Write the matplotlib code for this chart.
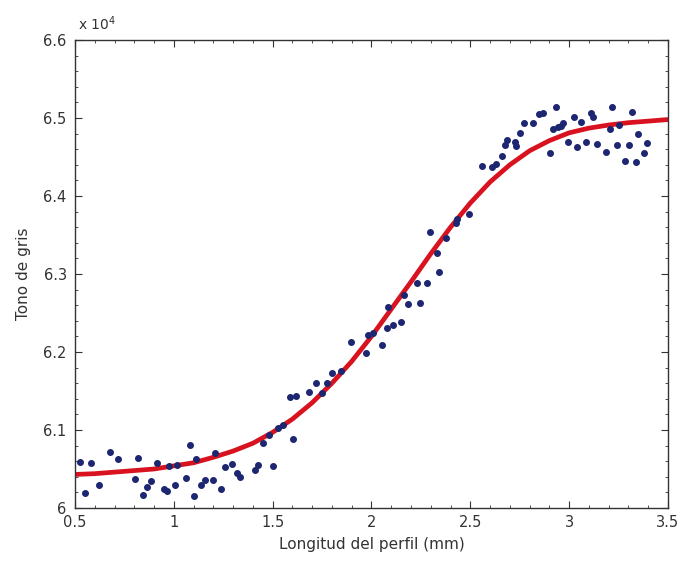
import matplotlib
matplotlib.use("Agg")
import matplotlib.pyplot as plt
from matplotlib.ticker import MultipleLocator

# Measured gray level along the profile (units of 1e4)
profile_x = [
    0.525, 0.581, 0.551, 0.621, 0.677, 0.718, 0.819, 0.804, 0.915, 0.885,
    0.864, 0.844, 0.950, 0.965, 0.976, 1.016, 1.006, 1.062, 1.082, 1.112,
    1.102, 1.137, 1.158, 1.198, 1.208, 1.239, 1.259, 1.294, 1.320, 1.335,
    1.411, 1.426, 1.451, 1.481, 1.502, 1.527, 1.552, 1.603, 1.588, 1.618,
    1.684, 1.750, 1.719, 1.775, 1.800, 1.846, 1.896, 1.972, 2.053, 2.008,
    1.982, 2.078, 2.109, 2.149, 2.084, 2.164, 2.185, 2.245, 2.230, 2.281,
    2.342, 2.331, 2.296, 2.377, 2.433, 2.428, 2.493, 2.559, 2.610, 2.630,
    2.660, 2.686, 2.675, 2.726, 2.731, 2.751, 2.772, 2.817, 2.847, 2.868,
    2.933, 2.903, 2.943, 2.918, 2.969, 2.959, 2.994, 3.025, 3.060, 3.110,
    3.121, 3.217, 3.318, 3.040, 3.085, 3.141, 3.207, 3.252, 3.186, 3.242,
    3.303, 3.348, 3.394, 3.379, 3.282, 3.338,
]
profile_gray = [
    6.059, 6.058, 6.019, 6.029, 6.072, 6.063, 6.064, 6.037, 6.058, 6.035,
    6.027, 6.017, 6.024, 6.022, 6.054, 6.055, 6.029, 6.038, 6.081, 6.063,
    6.015, 6.029, 6.036, 6.036, 6.071, 6.024, 6.053, 6.056, 6.045, 6.040,
    6.049, 6.055, 6.083, 6.094, 6.054, 6.103, 6.106, 6.088, 6.142, 6.144,
    6.149, 6.147, 6.160, 6.160, 6.173, 6.176, 6.213, 6.199, 6.209, 6.224,
    6.222, 6.231, 6.235, 6.238, 6.258, 6.273, 6.262, 6.263, 6.288, 6.288,
    6.303, 6.327, 6.354, 6.346, 6.371, 6.365, 6.377, 6.438, 6.437, 6.441,
    6.451, 6.472, 6.465, 6.469, 6.464, 6.481, 6.494, 6.494, 6.505, 6.506,
    6.514, 6.455, 6.488, 6.486, 6.494, 6.490, 6.469, 6.501, 6.495, 6.506,
    6.501, 6.514, 6.508, 6.463, 6.469, 6.467, 6.486, 6.491, 6.456, 6.465,
    6.465, 6.479, 6.468, 6.455, 6.445, 6.444,
]

# Fitted sigmoid curve
fit_x = [0.5, 0.6, 0.7, 0.8, 0.9, 1.0, 1.1, 1.2, 1.3, 1.4, 1.5, 1.6, 1.7,
         1.8, 1.9, 2.0, 2.1, 2.2, 2.3, 2.4, 2.5, 2.6, 2.7, 2.8, 2.9, 3.0,
         3.1, 3.2, 3.3, 3.4, 3.5]
fit_gray = [6.043, 6.044, 6.046, 6.048, 6.050, 6.054, 6.058, 6.065, 6.073,
            6.083, 6.097, 6.114, 6.135, 6.160, 6.188, 6.220, 6.255, 6.290,
            6.326, 6.360, 6.391, 6.418, 6.440, 6.458, 6.471, 6.481, 6.487,
            6.491, 6.494, 6.496, 6.498]

x_ticks = [0.5, 1, 1.5, 2, 2.5, 3, 3.5]
x_tick_labels = ["0.5", "1", "1.5", "2", "2.5", "3", "3.5"]
y_ticks = [6.0, 6.1, 6.2, 6.3, 6.4, 6.5, 6.6]
y_tick_labels = ["6", "6.1", "6.2", "6.3", "6.4", "6.5", "6.6"]

plt.rcParams["font.family"] = ["DejaVu Sans"]

fig = plt.figure(figsize=(6.83, 5.65), dpi=100)
ax = fig.add_axes([0.1098, 0.1009, 0.8682, 0.8283])

ax.plot(fit_x, fit_gray, color="#d8121f", linewidth=3.4, zorder=2,
        solid_capstyle="butt")
ax.plot(profile_x, profile_gray, linestyle="none", marker="o",
        markersize=4.0, markerfacecolor="#1d2670", markeredgecolor="#1d2670",
        zorder=3)

ax.set_xlim(0.5, 3.5)
ax.set_ylim(6.0, 6.6)
ax.set_xticks(x_ticks)
ax.set_xticklabels(x_tick_labels)
ax.set_yticks(y_ticks)
ax.set_yticklabels(y_tick_labels)
ax.xaxis.set_minor_locator(MultipleLocator(0.1))
ax.yaxis.set_minor_locator(MultipleLocator(0.02))

ax.tick_params(which="both", direction="in", top=True, right=True,
               colors="#333333", labelsize=10.5)
ax.tick_params(axis="x", which="major", pad=5)
ax.tick_params(axis="y", which="major", pad=6)
ax.tick_params(which="major", length=5, width=0.8)
ax.tick_params(which="minor", length=2.5, width=0.6)
for spine in ax.spines.values():
    spine.set_color("#333333")
    spine.set_linewidth(1.0)

ax.set_xlabel("Longitud del perfil (mm)", fontsize=11, color="#333333",
              labelpad=5)
ax.set_ylabel("Tono de gris", fontsize=11, color="#333333", labelpad=9)

ax.text(0.005, 1.015, r"x 10$^4$", transform=ax.transAxes, fontsize=10,
        color="#333333", ha="left", va="bottom")

fig.savefig("out.png", dpi=100, facecolor="white")
